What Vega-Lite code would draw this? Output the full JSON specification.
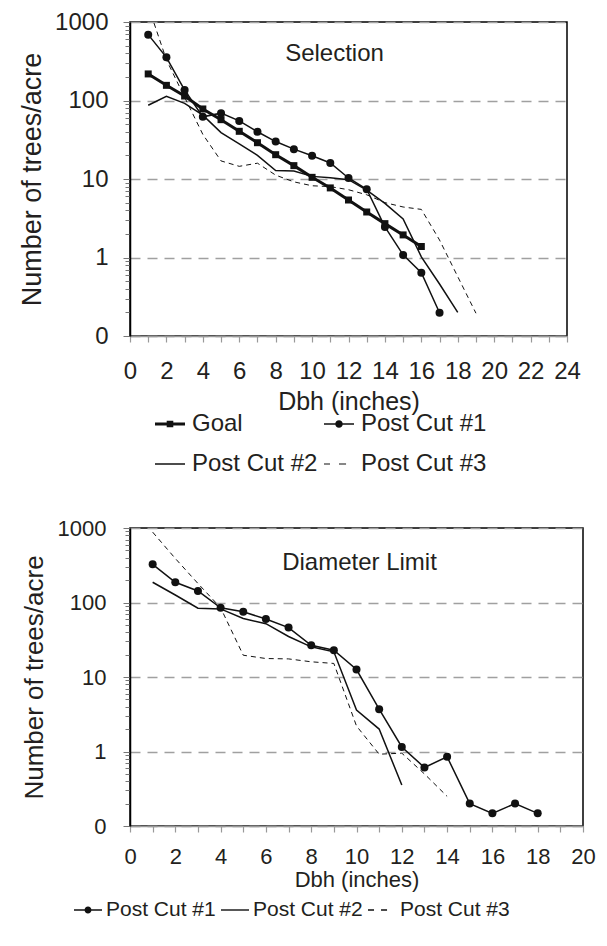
{
  "$schema": "https://vega.github.io/schema/vega-lite/v6.json",
  "background": "white",
  "padding": {"left": 17, "top": 9, "right": 5, "bottom": 5},
  "datasets": {
    "sel": [
      {"series": "Goal", "dbh": 1, "n": 218}, {"series": "Goal", "dbh": 2, "n": 156}, {"series": "Goal", "dbh": 3, "n": 114}, {"series": "Goal", "dbh": 4, "n": 78},
      {"series": "Goal", "dbh": 5, "n": 57}, {"series": "Goal", "dbh": 6, "n": 40.5}, {"series": "Goal", "dbh": 7, "n": 29}, {"series": "Goal", "dbh": 8, "n": 20.4},
      {"series": "Goal", "dbh": 9, "n": 14.8}, {"series": "Goal", "dbh": 10, "n": 10.5}, {"series": "Goal", "dbh": 11, "n": 7.7}, {"series": "Goal", "dbh": 12, "n": 5.4},
      {"series": "Goal", "dbh": 13, "n": 3.8}, {"series": "Goal", "dbh": 14, "n": 2.7}, {"series": "Goal", "dbh": 15, "n": 1.94}, {"series": "Goal", "dbh": 16, "n": 1.38},
      {"series": "Post Cut #1", "dbh": 1, "n": 690}, {"series": "Post Cut #1", "dbh": 2, "n": 355}, {"series": "Post Cut #1", "dbh": 3, "n": 136}, {"series": "Post Cut #1", "dbh": 4, "n": 62},
      {"series": "Post Cut #1", "dbh": 5, "n": 69}, {"series": "Post Cut #1", "dbh": 6, "n": 55}, {"series": "Post Cut #1", "dbh": 7, "n": 40}, {"series": "Post Cut #1", "dbh": 8, "n": 30},
      {"series": "Post Cut #1", "dbh": 9, "n": 24}, {"series": "Post Cut #1", "dbh": 10, "n": 19.8}, {"series": "Post Cut #1", "dbh": 11, "n": 16}, {"series": "Post Cut #1", "dbh": 12, "n": 10.3},
      {"series": "Post Cut #1", "dbh": 13, "n": 7.4}, {"series": "Post Cut #1", "dbh": 14, "n": 2.45}, {"series": "Post Cut #1", "dbh": 15, "n": 1.08}, {"series": "Post Cut #1", "dbh": 16, "n": 0.64},
      {"series": "Post Cut #1", "dbh": 17, "n": 0.198},
      {"series": "Post Cut #2", "dbh": 1, "n": 87}, {"series": "Post Cut #2", "dbh": 2, "n": 113}, {"series": "Post Cut #2", "dbh": 3, "n": 92}, {"series": "Post Cut #2", "dbh": 4, "n": 65},
      {"series": "Post Cut #2", "dbh": 5, "n": 39}, {"series": "Post Cut #2", "dbh": 6, "n": 28}, {"series": "Post Cut #2", "dbh": 7, "n": 20}, {"series": "Post Cut #2", "dbh": 8, "n": 12.8},
      {"series": "Post Cut #2", "dbh": 9, "n": 12.6}, {"series": "Post Cut #2", "dbh": 10, "n": 10.8}, {"series": "Post Cut #2", "dbh": 11, "n": 10.4}, {"series": "Post Cut #2", "dbh": 12, "n": 9.8},
      {"series": "Post Cut #2", "dbh": 13, "n": 7.2}, {"series": "Post Cut #2", "dbh": 14, "n": 4.9}, {"series": "Post Cut #2", "dbh": 15, "n": 3.1}, {"series": "Post Cut #2", "dbh": 16, "n": 1.02},
      {"series": "Post Cut #2", "dbh": 17, "n": 0.46}, {"series": "Post Cut #2", "dbh": 18, "n": 0.2},
      {"series": "Post Cut #3", "dbh": 1, "n": 1600}, {"series": "Post Cut #3", "dbh": 2, "n": 330}, {"series": "Post Cut #3", "dbh": 3, "n": 110}, {"series": "Post Cut #3", "dbh": 4, "n": 37},
      {"series": "Post Cut #3", "dbh": 5, "n": 17}, {"series": "Post Cut #3", "dbh": 6, "n": 14.5}, {"series": "Post Cut #3", "dbh": 7, "n": 15.9}, {"series": "Post Cut #3", "dbh": 8, "n": 11.2},
      {"series": "Post Cut #3", "dbh": 9, "n": 9.2}, {"series": "Post Cut #3", "dbh": 10, "n": 8.2}, {"series": "Post Cut #3", "dbh": 11, "n": 8.0}, {"series": "Post Cut #3", "dbh": 12, "n": 7.3},
      {"series": "Post Cut #3", "dbh": 13, "n": 6.3}, {"series": "Post Cut #3", "dbh": 14, "n": 5.0}, {"series": "Post Cut #3", "dbh": 15, "n": 4.4}, {"series": "Post Cut #3", "dbh": 16, "n": 4.1},
      {"series": "Post Cut #3", "dbh": 17, "n": 1.67}, {"series": "Post Cut #3", "dbh": 18, "n": 0.57}, {"series": "Post Cut #3", "dbh": 19, "n": 0.195}
    ],
    "dl": [
      {"series": "Post Cut #1", "dbh": 1, "n": 325}, {"series": "Post Cut #1", "dbh": 2, "n": 187}, {"series": "Post Cut #1", "dbh": 3, "n": 143}, {"series": "Post Cut #1", "dbh": 4, "n": 85},
      {"series": "Post Cut #1", "dbh": 5, "n": 75}, {"series": "Post Cut #1", "dbh": 6, "n": 60}, {"series": "Post Cut #1", "dbh": 7, "n": 46}, {"series": "Post Cut #1", "dbh": 8, "n": 26.7},
      {"series": "Post Cut #1", "dbh": 9, "n": 22.9}, {"series": "Post Cut #1", "dbh": 10, "n": 12.6}, {"series": "Post Cut #1", "dbh": 11, "n": 3.7}, {"series": "Post Cut #1", "dbh": 12, "n": 1.15},
      {"series": "Post Cut #1", "dbh": 13, "n": 0.61}, {"series": "Post Cut #1", "dbh": 14, "n": 0.85}, {"series": "Post Cut #1", "dbh": 15, "n": 0.2}, {"series": "Post Cut #1", "dbh": 16, "n": 0.148},
      {"series": "Post Cut #1", "dbh": 17, "n": 0.2}, {"series": "Post Cut #1", "dbh": 18, "n": 0.148},
      {"series": "Post Cut #2", "dbh": 1, "n": 187}, {"series": "Post Cut #2", "dbh": 2, "n": 126}, {"series": "Post Cut #2", "dbh": 3, "n": 84}, {"series": "Post Cut #2", "dbh": 4, "n": 82},
      {"series": "Post Cut #2", "dbh": 5, "n": 61}, {"series": "Post Cut #2", "dbh": 6, "n": 52}, {"series": "Post Cut #2", "dbh": 7, "n": 35}, {"series": "Post Cut #2", "dbh": 8, "n": 25.4},
      {"series": "Post Cut #2", "dbh": 9, "n": 21.8}, {"series": "Post Cut #2", "dbh": 10, "n": 3.6}, {"series": "Post Cut #2", "dbh": 11, "n": 2.0}, {"series": "Post Cut #2", "dbh": 12, "n": 0.355},
      {"series": "Post Cut #3", "dbh": 1, "n": 880}, {"series": "Post Cut #3", "dbh": 2, "n": 390}, {"series": "Post Cut #3", "dbh": 3, "n": 180}, {"series": "Post Cut #3", "dbh": 4, "n": 85},
      {"series": "Post Cut #3", "dbh": 5, "n": 19.6}, {"series": "Post Cut #3", "dbh": 6, "n": 17.7}, {"series": "Post Cut #3", "dbh": 7, "n": 17.5}, {"series": "Post Cut #3", "dbh": 8, "n": 16},
      {"series": "Post Cut #3", "dbh": 9, "n": 15.2}, {"series": "Post Cut #3", "dbh": 10, "n": 2.2}, {"series": "Post Cut #3", "dbh": 11, "n": 0.92}, {"series": "Post Cut #3", "dbh": 12, "n": 0.95},
      {"series": "Post Cut #3", "dbh": 13, "n": 0.5}, {"series": "Post Cut #3", "dbh": 14, "n": 0.25}
    ]
  },
  "config": {
    "font": "Liberation Sans",
    "view": {"stroke": "#000", "strokeWidth": 1.5},
    "axis": {"labelColor": "#231f20", "titleColor": "#231f20", "titleFontWeight": "normal", "labelFont": "Liberation Sans", "titleFont": "Liberation Sans", "labelOverlap": false, "labelFlush": false},
    "legend": {"labelFont": "Liberation Sans", "labelColor": "#231f20"}
  },
  "spacing": 39,
  "resolve": {"scale": {"x": "independent", "y": "independent", "shape": "independent"}, "legend": {"shape": "independent"}},
  "vconcat": [
    {
      "width": 437,
      "height": 314,
      "title": {"text": "Selection", "orient": "top", "anchor": "middle", "frame": "group", "offset": -40, "dy": 35, "baseline": "alphabetic", "dx": -14, "fontSize": 24, "fontWeight": "normal", "color": "#231f20", "font": "Liberation Sans"},
      "data": {"name": "sel"},
      "encoding": {
        "x": {"field": "dbh", "type": "quantitative", "scale": {"domain": [0, 24], "nice": false, "zero": false},
          "axis": {"values": [0,1,2,3,4,5,6,7,8,9,10,11,12,13,14,15,16,17,18,19,20,21,22,23,24], "labelExpr": "datum.value % 2 === 0 ? datum.label : ''", "grid": false, "domainColor": "#999", "domainWidth": 1.5, "tickColor": "#999", "tickWidth": 1.2, "tickSize": 6, "labelFontSize": 24, "labelPadding": 17, "title": "Dbh (inches)", "titleFontSize": 25, "titlePadding": 6}},
        "y": {"field": "n", "type": "quantitative", "scale": {"type": "log", "domain": [0.1, 1000], "nice": false},
          "axis": {"values": [0.1,0.2,0.3,0.4,0.5,0.6,0.7,0.8,0.9,1,2,3,4,5,6,7,8,9,10,20,30,40,50,60,70,80,90,100,200,300,400,500,600,700,800,900,1000],
            "labelExpr": "datum.value == 0.1 ? '0' : (indexof([1,10,100,1000], datum.value) >= 0 ? format(datum.value, 'd') : '')",
            "tickSize": {"condition": {"test": "indexof([0.1,1,10,100,1000], datum.value) >= 0", "value": 7}, "value": 5},
            "gridOpacity": {"condition": {"test": "indexof([0.1,1,10,100,1000], datum.value) >= 0", "value": 1}, "value": 0},
            "grid": true, "gridDash": [10, 7], "gridColor": "#a0a0a0", "gridWidth": 1.3,
            "domainColor": "#000", "domainWidth": 1.5, "tickColor": "#777",
            "labelFontSize": 24, "labelPadding": 15, "title": "Number of trees/acre", "titleFontSize": 27, "titlePadding": 8}}
      },
      "layer": [
        {"transform": [{"filter": "datum.series === 'Goal'"}], "mark": {"type": "line", "color": "#111", "strokeWidth": 3, "clip": true}, "encoding": {}},
        {"transform": [{"filter": "datum.series === 'Post Cut #1' || datum.series === 'Post Cut #2'"}], "mark": {"type": "line", "color": "#111", "strokeWidth": 1.5, "clip": true}, "encoding": {"detail": {"field": "series"}}},
        {"transform": [{"filter": "datum.series === 'Post Cut #3'"}], "mark": {"type": "line", "color": "#111", "strokeWidth": 1, "strokeDash": [5, 4], "clip": true}, "encoding": {}},
        {"transform": [{"filter": "datum.series === 'Goal'"}], "mark": {"type": "point", "shape": "square", "filled": true, "size": 49, "color": "#111", "opacity": 1}},
        {"transform": [{"filter": "datum.series === 'Post Cut #1'"}], "mark": {"type": "point", "shape": "circle", "filled": true, "size": 64, "color": "#111", "opacity": 1}},
        {"transform": [{"filter": "false"}], "mark": {"type": "point", "filled": true, "size": 900, "color": "#111", "opacity": 1},
          "encoding": {"shape": {"field": "series", "type": "nominal",
            "scale": {"domain": ["Goal", "Post Cut #1", "Post Cut #2", "Post Cut #3"],
              "range": ["M-1,-0.1H1V0.1H-1Z M-0.22,-0.22H0.22V0.22H-0.22Z",
                        "M-1,-0.05H1V0.05H-1Z M0.25,0A0.25,0.25,0,1,1,-0.25,0A0.25,0.25,0,1,1,0.25,0Z",
                        "M-1,-0.05H1V0.05H-1Z",
                        "M-1,-0.04H-0.6V0.04H-1Z M0,-0.04H0.47V0.04H0Z"]},
            "legend": {"orient": "none", "legendX": 25, "legendY": 387, "direction": "horizontal", "columns": 2, "title": null,
              "labelFontSize": 24, "symbolSize": 900, "symbolFillColor": "#111", "symbolStrokeColor": "#111", "symbolStrokeWidth": 0, "symbolOpacity": 1,
              "labelOffset": 7, "columnPadding": 6, "rowPadding": 13, "padding": 0}}}}
      ]
    },
    {
      "width": 453,
      "height": 298,
      "title": {"text": "Diameter Limit", "orient": "top", "anchor": "middle", "frame": "group", "offset": -41, "dy": 36, "baseline": "alphabetic", "dx": 3, "fontSize": 24, "fontWeight": "normal", "color": "#231f20", "font": "Liberation Sans"},
      "data": {"name": "dl"},
      "encoding": {
        "x": {"field": "dbh", "type": "quantitative", "scale": {"domain": [0, 20], "nice": false, "zero": false},
          "axis": {"values": [0,1,2,3,4,5,6,7,8,9,10,11,12,13,14,15,16,17,18,19,20], "labelExpr": "datum.value % 2 === 0 ? datum.label : ''", "grid": false, "domainColor": "#999", "domainWidth": 1.5, "tickColor": "#999", "tickWidth": 1.2, "tickSize": 6, "labelFontSize": 22, "labelPadding": 14, "title": "Dbh (inches)", "titleFontSize": 22, "titlePadding": 2}},
        "y": {"field": "n", "type": "quantitative", "scale": {"type": "log", "domain": [0.1, 1000], "nice": false},
          "axis": {"values": [0.1,0.2,0.3,0.4,0.5,0.6,0.7,0.8,0.9,1,2,3,4,5,6,7,8,9,10,20,30,40,50,60,70,80,90,100,200,300,400,500,600,700,800,900,1000],
            "labelExpr": "datum.value == 0.1 ? '0' : (indexof([1,10,100,1000], datum.value) >= 0 ? format(datum.value, 'd') : '')",
            "tickSize": {"condition": {"test": "indexof([0.1,1,10,100,1000], datum.value) >= 0", "value": 7}, "value": 5},
            "gridOpacity": {"condition": {"test": "indexof([0.1,1,10,100,1000], datum.value) >= 0", "value": 1}, "value": 0},
            "grid": true, "gridDash": [10, 7], "gridColor": "#a0a0a0", "gridWidth": 1.3,
            "domainColor": "#000", "domainWidth": 1.5, "tickColor": "#777",
            "labelFontSize": 22, "labelPadding": 17, "title": "Number of trees/acre", "titleFontSize": 26, "titlePadding": 10}}
      },
      "layer": [
        {"transform": [{"filter": "datum.series === 'Post Cut #1' || datum.series === 'Post Cut #2'"}], "mark": {"type": "line", "color": "#111", "strokeWidth": 1.5, "clip": true}, "encoding": {"detail": {"field": "series"}}},
        {"transform": [{"filter": "datum.series === 'Post Cut #3'"}], "mark": {"type": "line", "color": "#111", "strokeWidth": 1, "strokeDash": [5, 4], "clip": true}, "encoding": {}},
        {"transform": [{"filter": "datum.series === 'Post Cut #1'"}], "mark": {"type": "point", "shape": "circle", "filled": true, "size": 64, "color": "#111", "opacity": 1}},
        {"transform": [{"filter": "false"}], "mark": {"type": "point", "filled": true, "size": 784, "color": "#111", "opacity": 1},
          "encoding": {"shape": {"field": "series", "type": "nominal",
            "scale": {"domain": ["Post Cut #1", "Post Cut #2", "Post Cut #3"],
              "range": ["M-1,-0.05H1V0.05H-1Z M0.25,0A0.25,0.25,0,1,1,-0.25,0A0.25,0.25,0,1,1,0.25,0Z",
                        "M-1,-0.05H1V0.05H-1Z",
                        "M-1,-0.045H-0.57V0.045H-1Z M-0.07,-0.045H0.36V0.045H-0.07Z"]},
            "legend": {"orient": "none", "legendX": -56, "legendY": 368, "direction": "horizontal", "title": null,
              "labelFontSize": 21, "symbolSize": 784, "symbolFillColor": "#111", "symbolStrokeColor": "#111", "symbolStrokeWidth": 0, "symbolOpacity": 1,
              "labelOffset": 4, "columnPadding": 5, "padding": 0}}}}
      ]
    }
  ]
}
